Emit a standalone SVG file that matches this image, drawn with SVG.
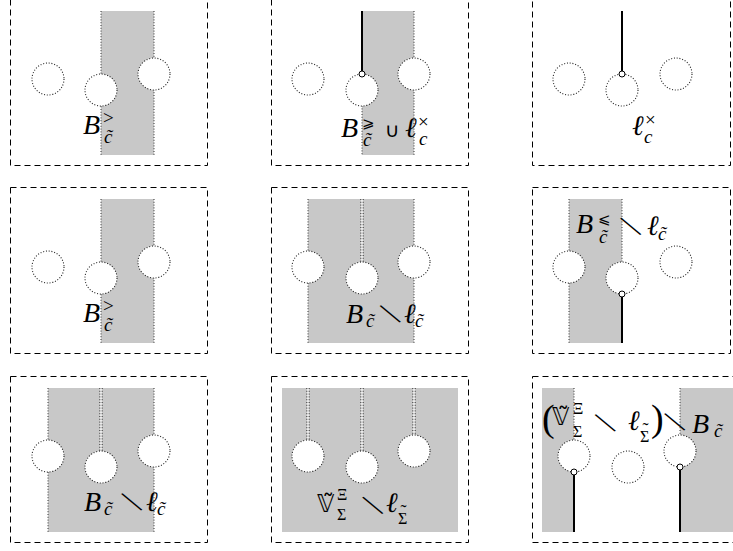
<svg xmlns="http://www.w3.org/2000/svg" width="733" height="551" viewBox="0 0 733 551">
<style>
.bg{fill:#fff}
.box{fill:none;stroke:#000;stroke-width:1;stroke-dasharray:6 4}
.g{fill:#c8c8c8;stroke:none}
.d{stroke:#333;stroke-width:1;stroke-dasharray:1 1.8;fill:none}
.c{fill:#fff;stroke:#222;stroke-width:1.1;stroke-dasharray:1 1.8}
.w{stroke:#f4f4f4;stroke-width:1.6}
.t{stroke:#000;stroke-width:2}
.p{fill:#fff;stroke:#000;stroke-width:1}
text{fill:#000}
.i{font-family:"Liberation Serif","DejaVu Serif",serif;font-style:italic;font-size:28px}
.si{font-family:"Liberation Serif","DejaVu Serif",serif;font-style:italic;font-size:19px}
.r{font-family:"Liberation Serif","DejaVu Serif",serif;font-size:19px}
.rs{font-family:"Liberation Serif","DejaVu Serif",serif;font-size:16px}
.tl{font-family:"Liberation Serif","DejaVu Serif",serif;font-size:18px;text-anchor:middle}
.sym{font-family:"DejaVu Sans",sans-serif}
.sm{font-family:"DejaVu Sans",sans-serif;font-weight:200;font-size:30px;text-anchor:middle}
.bb{font-family:"DejaVu Sans","DejaVu Serif",sans-serif;font-size:24px}
.par{font-family:"Liberation Serif","DejaVu Serif",serif;font-size:38px}
</style>
<rect class="bg" x="0" y="0" width="733" height="551"/>

<!-- Row 1 -->
<g id="panel-1">
  <rect class="box" x="10.5" y="-0.5" width="197" height="166"/>
  <rect class="g" x="101" y="11" width="53" height="144"/>
  <line class="d" x1="101" y1="11" x2="101" y2="155"/>
  <line class="d" x1="154" y1="11" x2="154" y2="155"/>
  <circle class="c" cx="48" cy="79" r="16"/>
  <circle class="c" cx="101" cy="90" r="16"/>
  <circle class="c" cx="154" cy="74" r="16"/>
  <text class="i" x="83" y="134">B</text>
  <text class="r" x="103" y="124">&gt;</text>
  <text class="si" x="104" y="143">c̃</text>
</g>
<g id="panel-2">
  <rect class="box" x="271.5" y="-0.5" width="197" height="166"/>
  <rect class="g" x="362" y="11" width="52" height="144"/>
  <line class="d" x1="362" y1="100" x2="362" y2="155"/>
  <line class="d" x1="414" y1="11" x2="414" y2="155"/>
  <circle class="c" cx="308" cy="79" r="16"/>
  <circle class="c" cx="362" cy="90" r="16"/>
  <circle class="c" cx="414" cy="74" r="16"/>
  <line class="t" x1="362" y1="11" x2="362" y2="71"/>
  <circle class="p" cx="362" cy="74" r="3"/>
  <text class="i" x="341" y="137">B</text>
  <text class="sym" x="362" y="128" font-size="15">⩾</text>
  <text class="si" x="363" y="146">c̃</text>
  <text class="sym" x="385" y="137" font-size="20">∪</text>
  <text class="i" x="405" y="137">ℓ</text>
  <text class="r" x="418" y="128">×</text>
  <text class="si" x="419" y="145">c</text>
</g>
<g id="panel-3">
  <rect class="box" x="532.5" y="-0.5" width="198" height="166"/>
  <circle class="c" cx="569" cy="79" r="16"/>
  <circle class="c" cx="622" cy="90" r="16"/>
  <circle class="c" cx="676" cy="74" r="16"/>
  <line class="t" x1="622" y1="11" x2="622" y2="71"/>
  <circle class="p" cx="622" cy="74" r="3"/>
  <text class="i" x="632" y="135">ℓ</text>
  <text class="r" x="645" y="126">×</text>
  <text class="si" x="644" y="143">c</text>
</g>

<!-- Row 2 -->
<g id="panel-4" transform="translate(0,188)">
  <rect class="box" x="10.5" y="-0.5" width="197" height="166"/>
  <rect class="g" x="101" y="11" width="53" height="144"/>
  <line class="d" x1="101" y1="11" x2="101" y2="155"/>
  <line class="d" x1="154" y1="11" x2="154" y2="155"/>
  <circle class="c" cx="48" cy="79" r="16"/>
  <circle class="c" cx="101" cy="90" r="16"/>
  <circle class="c" cx="154" cy="74" r="16"/>
  <text class="i" x="83" y="134">B</text>
  <text class="r" x="103" y="124">&gt;</text>
  <text class="si" x="104" y="143">c̃</text>
</g>
<g id="panel-5" transform="translate(0,188)">
  <rect class="box" x="271.5" y="-0.5" width="197" height="166"/>
  <rect class="g" x="308" y="11" width="106" height="144"/>
  <line class="d" x1="308" y1="11" x2="308" y2="155"/>
  <line class="d" x1="414" y1="11" x2="414" y2="155"/>
  <line class="w" x1="362" y1="11" x2="362" y2="74"/>
  <line class="d" x1="360.8" y1="11" x2="360.8" y2="74"/>
  <line class="d" x1="363.2" y1="11" x2="363.2" y2="74"/>
  <circle class="c" cx="308" cy="79" r="16"/>
  <circle class="c" cx="362" cy="90" r="16"/>
  <circle class="c" cx="414" cy="74" r="16"/>
  <text class="i" x="346" y="135">B</text>
  <text class="si" x="366" y="139">c̃</text>
  <text class="sm" x="0" y="9" transform="translate(390,128) rotate(-33)">∖</text>
  <text class="i" x="404" y="135">ℓ</text>
  <text class="si" x="415" y="139">c̃</text>
</g>
<g id="panel-6" transform="translate(0,188)">
  <rect class="box" x="532.5" y="-0.5" width="198" height="166"/>
  <rect class="g" x="569" y="11" width="53" height="144"/>
  <line class="d" x1="569" y1="11" x2="569" y2="155"/>
  <line class="d" x1="622" y1="11" x2="622" y2="80"/>
  <circle class="c" cx="569" cy="79" r="16"/>
  <circle class="c" cx="622" cy="90" r="16"/>
  <circle class="c" cx="676" cy="74" r="16"/>
  <line class="t" x1="622" y1="109" x2="622" y2="155"/>
  <circle class="p" cx="622" cy="106" r="3"/>
  <text class="i" x="576" y="45">B</text>
  <text class="sym" x="598" y="36" font-size="15">⩽</text>
  <text class="si" x="599" y="55">c̃</text>
  <text class="sm" x="0" y="9" transform="translate(630.5,40.5) rotate(-33)">∖</text>
  <text class="i" x="647" y="47">ℓ</text>
  <text class="si" x="658" y="52">c̃</text>
</g>

<!-- Row 3 -->
<g id="panel-7" transform="translate(0,377)">
  <rect class="box" x="10.5" y="-0.5" width="197" height="166"/>
  <rect class="g" x="48" y="11" width="106" height="144"/>
  <line class="d" x1="48" y1="11" x2="48" y2="155"/>
  <line class="d" x1="154" y1="11" x2="154" y2="155"/>
  <line class="w" x1="101" y1="11" x2="101" y2="74"/>
  <line class="d" x1="99.8" y1="11" x2="99.8" y2="74"/>
  <line class="d" x1="102.2" y1="11" x2="102.2" y2="74"/>
  <circle class="c" cx="48" cy="79" r="16"/>
  <circle class="c" cx="101" cy="90" r="16"/>
  <circle class="c" cx="154" cy="74" r="16"/>
  <text class="i" x="84" y="134">B</text>
  <text class="si" x="104" y="138">c̃</text>
  <text class="sm" x="0" y="9" transform="translate(131.5,127) rotate(-33)">∖</text>
  <text class="i" x="146" y="134">ℓ</text>
  <text class="si" x="157" y="138">c̃</text>
</g>
<g id="panel-8" transform="translate(0,377)">
  <rect class="box" x="271.5" y="-0.5" width="197" height="166"/>
  <rect class="g" x="282" y="11" width="176" height="144"/>
  <line class="w" x1="308" y1="11" x2="308" y2="63"/>
  <line class="d" x1="306.8" y1="11" x2="306.8" y2="63"/>
  <line class="d" x1="309.2" y1="11" x2="309.2" y2="63"/>
  <line class="w" x1="362" y1="11" x2="362" y2="74"/>
  <line class="d" x1="360.8" y1="11" x2="360.8" y2="74"/>
  <line class="d" x1="363.2" y1="11" x2="363.2" y2="74"/>
  <line class="w" x1="414" y1="11" x2="414" y2="58"/>
  <line class="d" x1="412.8" y1="11" x2="412.8" y2="58"/>
  <line class="d" x1="415.2" y1="11" x2="415.2" y2="58"/>
  <circle class="c" cx="308" cy="79" r="16"/>
  <circle class="c" cx="362" cy="90" r="16"/>
  <circle class="c" cx="414" cy="74" r="16"/>
  <text class="bb" x="317" y="135">𝕍̃</text>
  <text class="rs" x="337" y="123">Ξ</text>
  <text class="rs" x="337" y="143">Σ</text>
  <text class="sm" x="0" y="9" transform="translate(372.5,130.5) rotate(-33)">∖</text>
  <text class="i" x="386" y="135">ℓ</text>
  <text class="tl" x="403.5" y="141">˜</text>
  <text class="rs" x="398" y="147">Σ</text>
</g>
<g id="panel-9" transform="translate(0,377)">
  <rect class="box" x="532.5" y="-0.5" width="205" height="166"/>
  <rect class="g" x="542" y="11" width="32" height="144"/>
  <rect class="g" x="680" y="11" width="60" height="144"/>
  <line class="d" x1="574" y1="11" x2="574" y2="70"/>
  <line class="d" x1="680" y1="11" x2="680" y2="65"/>
  <circle class="c" cx="574" cy="79" r="16"/>
  <circle class="c" cx="628" cy="90" r="16"/>
  <circle class="c" cx="680" cy="74" r="16"/>
  <line class="t" x1="574" y1="98" x2="574" y2="155"/>
  <circle class="p" cx="574" cy="95" r="3"/>
  <line class="t" x1="680" y1="93" x2="680" y2="155"/>
  <circle class="p" cx="680" cy="90" r="3"/>
  <text class="par" x="542" y="54">(</text>
  <text class="bb" x="552" y="48">𝕍̃</text>
  <text class="rs" x="573" y="37">Ξ</text>
  <text class="rs" x="573" y="60">Σ</text>
  <text class="sm" x="0" y="9" transform="translate(605,48) rotate(-33)">∖</text>
  <text class="i" x="628" y="53">ℓ</text>
  <text class="tl" x="645.5" y="59">˜</text>
  <text class="rs" x="640" y="65">Σ</text>
  <text class="par" x="651" y="54">)</text>
  <text class="sm" x="0" y="9" transform="translate(674.5,47) rotate(-33)">∖</text>
  <text class="i" x="692" y="56">B</text>
  <text class="si" x="714" y="60">c̃</text>
</g>
</svg>
